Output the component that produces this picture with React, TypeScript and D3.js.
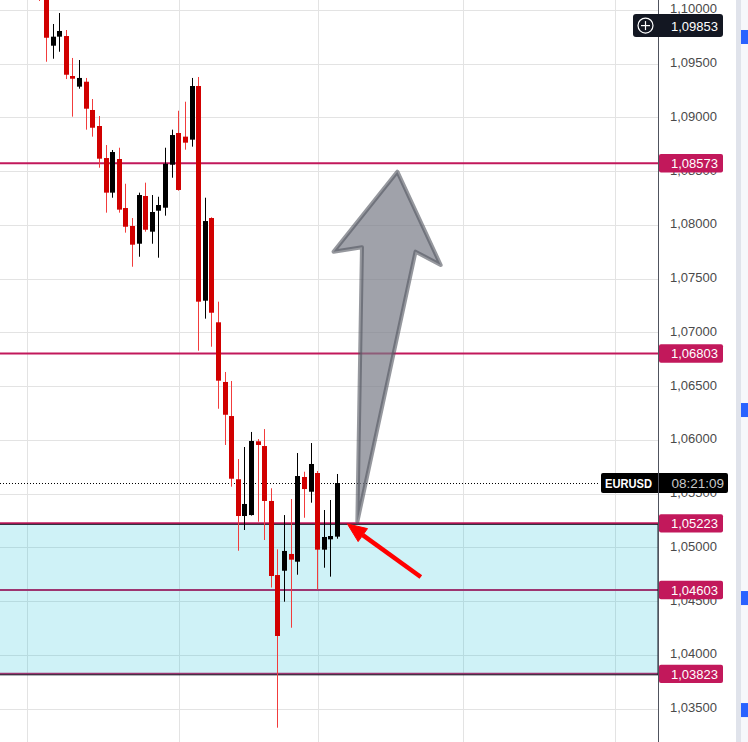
import React from 'react';
import * as d3 from 'd3';

// EURUSD candles, oldest first (index 0 is cut off by the top edge)
const opens = [
  1.1035, 1.1016, 1.09666, 1.0975, 1.09756, 1.09384, 1.09285, 1.09331, 1.09068, 1.08919,
  1.08621, 1.08299, 1.08612, 1.08156, 1.07989, 1.07824, 1.08268, 1.07936, 1.08131, 1.08159,
  1.08559, 1.08854, 1.0882, 1.08792, 1.09291, 1.07294, 1.08063, 1.07093, 1.06538, 1.06221,
  1.05633, 1.05291, 1.053, 1.05986, 1.05942, 1.05431, 1.04742, 1.04782, 1.04938, 1.04866,
  1.05654, 1.05517, 1.05691, 1.04978, 1.05074, 1.05099,
];
const highs = [
  1.1042, 1.1021, 1.09868, 1.0997, 1.09812, 1.09552, 1.09533, 1.09366, 1.0917, 1.09012,
  1.08742, 1.08696, 1.08717, 1.08382, 1.08063, 1.08299, 1.08392, 1.08277, 1.08261, 1.08717,
  1.08885, 1.09061, 1.09145, 1.09366, 1.09375, 1.08252, 1.0807, 1.07285, 1.06631, 1.06547,
  1.05821, 1.05933, 1.06073, 1.06007, 1.061, 1.05549, 1.04981, 1.053, 1.05449, 1.05877,
  1.05703, 1.0597, 1.0571, 1.05347, 1.0544, 1.05682,
];
const lows = [
  1.10082, 1.09517, 1.09545, 1.0961, 1.09356, 1.09006, 1.09266, 1.08885, 1.0882, 1.08531,
  1.08113, 1.08252, 1.08113, 1.07927, 1.0761, 1.07703, 1.07936, 1.07824, 1.07694, 1.08085,
  1.08438, 1.08317, 1.08699, 1.08727, 1.06829, 1.07127, 1.06866, 1.06289, 1.05952, 1.05564,
  1.04968, 1.05161, 1.05295, 1.05238, 1.05068, 1.04626, 1.03322, 1.04494, 1.04252, 1.04745,
  1.05275, 1.05415, 1.04606, 1.0481, 1.04727, 1.0508,
];
const closes = [
  1.1016, 1.0974, 1.0975, 1.09803, 1.09396, 1.09359, 1.09366, 1.0908, 1.08903, 1.08615,
  1.08299, 1.08677, 1.08141, 1.07982, 1.07815, 1.08277, 1.07954, 1.08119, 1.08184, 1.08568,
  1.08835, 1.08324, 1.08764, 1.09291, 1.07285, 1.08035, 1.07182, 1.0655, 1.06233, 1.05638,
  1.05291, 1.05403, 1.05989, 1.05952, 1.05431, 1.04733, 1.04175, 1.04966, 1.04885, 1.05663,
  1.05542, 1.05775, 1.04978, 1.05096, 1.05105, 1.05598,
];

const levels = [1.08573, 1.06803, 1.05223, 1.04603, 1.03823];
const zone = [1.05223, 1.03823];
const timeGridBars = [-2, 21, 42, 64, 87];
const lastPrice = 1.05598;
const hoverPrice = 1.09853;
const countdown = '08:21:09';
const symbol = 'EURUSD';
// drawings, as [bar index, price]
const upArrow: [number, number][] = [
  [54.05, 1.08494], [60.6, 1.07626], [56.8, 1.0775], [48.0, 1.05238], [48.7, 1.07791], [44.4, 1.0775],
];
const redArrow: [number, number][] = [[57.6, 1.04724], [46.5, 1.05217]];
const sideMarkers = [1.09747, 1.06277, 1.04528, 1.03486];

const W = 748;
const H = 742;
const axisX = 658;
const font = '"Liberation Sans", Arial, sans-serif';

const fmt = (v: number) => v.toFixed(5).replace('.', ',');

export default function App() {
  const x = d3.scaleLinear().domain([1, 45]).range([46.5, 337.5]);
  const y = d3.scaleLinear().domain([1.035, 1.1]).range([708.55, 9.8]);
  const ticks = y.ticks(13);

  const arrowPath = d3.line<[number, number]>()
    .x((d) => x(d[0]))
    .y((d) => y(d[1]))
    .curve(d3.curveLinearClosed)(upArrow) as string;

  // red arrow geometry
  const [rs, re] = redArrow;
  const sx = x(rs[0]), sy = y(rs[1]), ex = x(re[0]), ey = y(re[1]);
  const len = Math.hypot(ex - sx, ey - sy);
  const ux = (ex - sx) / len, uy = (ey - sy) / len;
  const headLen = 19, headW = 8;
  const bx = ex - ux * headLen, by = ey - uy * headLen;
  const head = `${ex},${ey} ${bx - uy * headW},${by + ux * headW} ${bx + uy * headW},${by - ux * headW}`;

  const yl = y(lastPrice);

  return (
    <svg
      width={W}
      height={H}
      style={{ position: 'absolute', left: 0, top: 0, background: '#fff', fontFamily: font }}
    >
      {/* grid */}
      <g stroke="#e3e3e3" strokeWidth={1}>
        {ticks.map((t) => (
          <line key={t} x1={0} x2={axisX} y1={Math.round(y(t)) + 0.5} y2={Math.round(y(t)) + 0.5} />
        ))}
        {timeGridBars.map((b) => (
          <line key={b} x1={Math.round(x(b)) + 0.5} x2={Math.round(x(b)) + 0.5} y1={0} y2={H} />
        ))}
      </g>

      {/* horizontal levels */}
      {levels.map((lv) => (
        <line key={lv} x1={0} x2={axisX} y1={y(lv)} y2={y(lv)} stroke="#c2185b" strokeWidth={2} />
      ))}

      {/* demand zone */}
      <rect
        x={-1}
        y={y(zone[0]) + 1}
        width={axisX + 1}
        height={y(zone[1]) - y(zone[0])}
        fill="rgba(0,188,212,0.19)"
        stroke="#131722"
        strokeWidth={1}
      />

      {/* last price dotted line */}
      <line x1={0} x2={600} y1={Math.round(yl) + 0.5} y2={Math.round(yl) + 0.5} stroke="#000" strokeWidth={1} strokeDasharray="1 2" />

      {/* candles */}
      {opens.map((o, i) => {
        const c = closes[i];
        const up = c >= o;
        const left = Math.round(x(i) - 2.5);
        const top = y(Math.max(o, c));
        const bot = y(Math.min(o, c));
        return (
          <g key={i}>
            <rect x={left + 2} y={y(highs[i])} width={1} height={y(lows[i]) - y(highs[i])} fill={up ? '#000' : '#f23c3c'} />
            <rect x={left} y={top} width={5} height={Math.max(1, bot - top)} fill={up ? '#000' : '#d10000'} />
          </g>
        );
      })}

      {/* drawings */}
      <path d={arrowPath} fill="rgba(120,123,134,0.7)" stroke="rgba(80,83,94,0.6)" strokeWidth={4} strokeLinejoin="round" />
      <line x1={sx} y1={sy} x2={bx} y2={by} stroke="#ff0000" strokeWidth={4.5} />
      <polygon points={head} fill="#ff0000" stroke="#ff0000" strokeWidth={1} strokeLinejoin="round" />

      {/* right price axis */}
      <rect x={axisX + 0.5} y={0} width={736 - axisX} height={H} fill="#fff" />
      <line x1={axisX + 0.5} x2={axisX + 0.5} y1={0} y2={H} stroke="#50535e" strokeWidth={1} />
      <g fontSize={13} fill="#4a4a4a" textAnchor="end">
        {ticks.map((t) => (
          <text key={t} x={717} y={y(t) - 1} dominantBaseline="central">{fmt(t)}</text>
        ))}
      </g>

      {levels.map((lv) => (
        <g key={lv}>
          <rect x={659} y={y(lv) - 9.2} width={64} height={18.4} rx={2} fill="#c2185b" />
          <text x={718} y={y(lv) + 0.5} fontSize={13} fill="#fff" textAnchor="end" dominantBaseline="central">{fmt(lv)}</text>
        </g>
      ))}

      {/* last price / countdown */}
      <rect x={601} y={yl - 10} width={127} height={20} rx={2} fill="#000" />
      <line x1={axisX + 0.5} x2={axisX + 0.5} y1={yl - 10} y2={yl + 10} stroke="#50535e" strokeWidth={1} />
      <text x={605} y={yl + 0.5} fontSize={13} fill="#fff" fontWeight="bold" dominantBaseline="central" textLength={47} lengthAdjust="spacingAndGlyphs">{symbol}</text>
      <text x={724} y={yl + 0.5} fontSize={13.5} fill="#c8c8c8" textAnchor="end" dominantBaseline="central">{countdown}</text>

      {/* hover price with plus button */}
      <rect x={633} y={y(hoverPrice) - 11.5} width={90} height={23} rx={3} fill="#131722" />
      <circle cx={645.5} cy={y(hoverPrice)} r={7.5} fill="none" stroke="#fff" strokeWidth={1.2} />
      <line x1={641} x2={650} y1={y(hoverPrice)} y2={y(hoverPrice)} stroke="#fff" strokeWidth={1.2} />
      <line x1={645.5} x2={645.5} y1={y(hoverPrice) - 4.5} y2={y(hoverPrice) + 4.5} stroke="#fff" strokeWidth={1.2} />
      <text x={718} y={y(hoverPrice) + 0.5} fontSize={13} fill="#fff" textAnchor="end" dominantBaseline="central">{fmt(hoverPrice)}</text>

      {/* side toolbar strip */}
      <rect x={736} y={0} width={5} height={H} fill="#e0e3eb" />
      <rect x={741} y={0} width={7} height={H} fill="#f6f7fb" />
      {sideMarkers.map((m) => (
        <rect key={m} x={741} y={y(m) - 7} width={7} height={14} fill="#2962ff" />
      ))}
    </svg>
  );
}
